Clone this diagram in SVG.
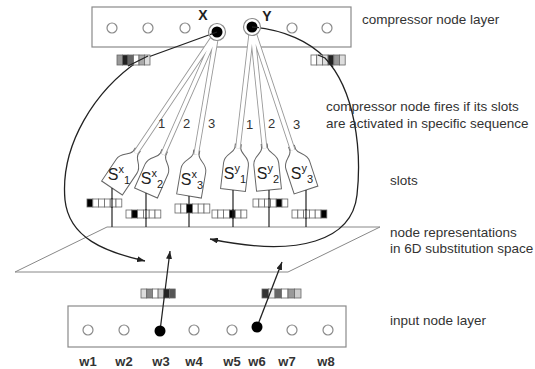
<svg xmlns="http://www.w3.org/2000/svg" width="535" height="369" viewBox="0 0 535 369">
<defs>
<style>
.box{fill:#fff;stroke:#8a8a8a;stroke-width:1.2}
.hc{fill:#fff;stroke:#8a8a8a;stroke-width:1.2}
.dot{fill:#000}
.ring{fill:#fff;stroke:#8a8a8a;stroke-width:1.2}
.cell{stroke:#666;stroke-width:0.8}
.bottle{fill:#fff;stroke:#666;stroke-width:1}
.tubeo{stroke:#999;stroke-width:5.5;fill:none}
.tubei{stroke:#fff;stroke-width:3.7;fill:none}
.stem{stroke:#222;stroke-width:1.2}
.plane{fill:none;stroke:#888;stroke-width:1}
.loop{fill:none;stroke:#222;stroke-width:1.3}
.lbl{font-family:"Liberation Sans",Arial,sans-serif;font-size:13.5px;fill:#333}
.num{font-family:"Liberation Sans",Arial,sans-serif;font-size:13px;fill:#333}
.w{font-family:"Liberation Sans",Arial,sans-serif;font-size:13px;font-weight:bold;fill:#333;text-anchor:middle}
.xy{font-family:"Liberation Sans",Arial,sans-serif;font-size:14px;font-weight:bold;fill:#222;text-anchor:middle}
.s{font-family:"Liberation Sans",Arial,sans-serif;font-size:16px;fill:#222;text-anchor:middle}
.ss{font-size:11px}
</style>
<marker id="ah" viewBox="0 0 8 6" refX="8" refY="3" markerWidth="8" markerHeight="6" markerUnits="userSpaceOnUse" orient="auto">
<path d="M0,0 L8,3 L0,6 z" fill="#222"/>
</marker>
<path id="btl" d="M -3,-46 L -3,-42 C -4,-36 -12.5,-35 -12.5,-26 L -12.5,0 L 12.5,0 L 12.5,-26 C 12.5,-35 4,-36 3,-42 L 3,-46 Z"/>
</defs>

<!-- plane -->
<g id="plane">
<polygon class="plane" points="107,227 380,227 288,272 15,272"/>
</g>

<!-- top compressor layer -->
<g id="compressor-layer">
<rect class="box" x="92" y="7" width="259" height="40"/>
<circle class="hc" cx="112" cy="28" r="5"/>
<circle class="hc" cx="148" cy="28" r="5"/>
<circle class="hc" cx="185" cy="28" r="5"/>
<circle class="hc" cx="292" cy="28" r="5"/>
<circle class="hc" cx="327" cy="28" r="5"/>
<text class="xy" x="203" y="20">X</text>
<text class="xy" x="267" y="21">Y</text>
</g>

<!-- input layer -->
<g id="input-layer">
<rect class="box" x="68" y="306" width="278" height="41"/>
<circle class="hc" cx="88" cy="330" r="5"/>
<circle class="hc" cx="124" cy="330" r="5"/>
<circle class="hc" cx="194" cy="330" r="5"/>
<circle class="hc" cx="232" cy="330" r="5"/>
<circle class="hc" cx="292" cy="330" r="5"/>
<circle class="hc" cx="328" cy="330" r="5"/>
<text class="w" x="88" y="366">w1</text>
<text class="w" x="124" y="366">w2</text>
<text class="w" x="161" y="366">w3</text>
<text class="w" x="194" y="366">w4</text>
<text class="w" x="232" y="366">w5</text>
<text class="w" x="257" y="366">w6</text>
<text class="w" x="287" y="366">w7</text>
<text class="w" x="326" y="366">w8</text>
</g>

<!-- slots -->
<g id="slot-sx1" transform="translate(112,188) rotate(33.9)"><use href="#btl" class="bottle"/></g>
<g id="slot-sx2" transform="translate(146,193) rotate(23.8)"><use href="#btl" class="bottle"/></g>
<g id="slot-sx3" transform="translate(189,196) rotate(9.7)"><use href="#btl" class="bottle"/></g>
<g id="slot-sy1" transform="translate(233,190) rotate(6.6)"><use href="#btl" class="bottle"/></g>
<g id="slot-sy2" transform="translate(269,190) rotate(-6)"><use href="#btl" class="bottle"/></g>
<g id="slot-sy3" transform="translate(306,190) rotate(-18.3)"><use href="#btl" class="bottle"/></g>

<!-- connectors -->
<g id="connectors">
<g id="tubes">
<path class="tubeo" d="M135.5,153.1 L217,32 M162.9,154.6 L217,32 M196.1,154.6 L217,32 M237.9,148.3 L252,27 M264.6,148.2 L252,27 M292.8,150.1 L252,27"/>
<path class="tubei" d="M135.5,153.1 L217,32 M162.9,154.6 L217,32 M196.1,154.6 L217,32 M237.9,148.3 L252,27 M264.6,148.2 L252,27 M292.8,150.1 L252,27"/>
</g>
<path class="loop" d="M217,32 L140,60 C95,90 60,145 65,200 C69,238 105,252 145,261" marker-end="url(#ah)"/>
<path class="loop" d="M252,27 C285,30 310,42 325,58 C355,90 362,150 357,195 C352,240 300,258 210,239" marker-end="url(#ah)"/>
<line class="stem" x1="112" y1="188" x2="112" y2="227"/>
<line class="stem" x1="146" y1="193" x2="146" y2="227"/>
<line class="stem" x1="189" y1="196" x2="189" y2="227"/>
<line class="stem" x1="233" y1="190" x2="233" y2="227"/>
<line class="stem" x1="269" y1="190" x2="269" y2="227"/>
<line class="stem" x1="306" y1="190" x2="306" y2="227"/>
</g>

<!-- compressor nodes X and Y -->
<g id="node-x">
<circle class="ring" cx="217" cy="32" r="8.5"/>
<circle class="dot" cx="217" cy="32" r="5.5"/>
</g>
<g id="node-y">
<circle class="ring" cx="252" cy="27" r="8.5"/>
<circle class="dot" cx="252" cy="27" r="5.5"/>
</g>
<path class="loop" d="M217,32 L210,34.6 M252,27 L259,27.6"/>

<!-- vectors -->
<g id="vec-top-left">
<rect class="cell" x="117" y="55" width="5.5" height="10" fill="#999"/>
<rect class="cell" x="122.5" y="55" width="5.5" height="10" fill="#222"/>
<rect class="cell" x="128" y="55" width="5.5" height="10" fill="#666"/>
<rect class="cell" x="133.5" y="55" width="5.5" height="10" fill="#fff"/>
<rect class="cell" x="139" y="55" width="5.5" height="10" fill="#aaa"/>
<rect class="cell" x="144.5" y="55" width="5.5" height="10" fill="#ddd"/>
</g>
<g id="vec-top-right">
<rect class="cell" x="311" y="55" width="5.7" height="10" fill="#fff"/>
<rect class="cell" x="316.7" y="55" width="5.7" height="10" fill="#eee"/>
<rect class="cell" x="322.4" y="55" width="5.7" height="10" fill="#ddd"/>
<rect class="cell" x="328.1" y="55" width="5.7" height="10" fill="#222"/>
<rect class="cell" x="333.8" y="55" width="5.7" height="10" fill="#999"/>
<rect class="cell" x="339.5" y="55" width="5.7" height="10" fill="#ddd"/>
</g>
<path class="loop" d="M148,56 L140,60 L128,66 M318,55 L325,58 L333,67"/>

<g id="vec-sx1" fill="#fff">
<rect class="cell" x="87" y="199" width="5.8" height="8" fill="#000"/>
<rect class="cell" x="92.8" y="199" width="5.8" height="8"/>
<rect class="cell" x="98.6" y="199" width="5.8" height="8"/>
<rect class="cell" x="104.4" y="199" width="5.8" height="8"/>
<rect class="cell" x="110.2" y="199" width="5.8" height="8"/>
<rect class="cell" x="116" y="199" width="5.8" height="8"/>
</g>
<g id="vec-sx2" fill="#fff">
<rect class="cell" x="126" y="210" width="5.8" height="8"/>
<rect class="cell" x="131.8" y="210" width="5.8" height="8" fill="#000"/>
<rect class="cell" x="137.6" y="210" width="5.8" height="8"/>
<rect class="cell" x="143.4" y="210" width="5.8" height="8"/>
<rect class="cell" x="149.2" y="210" width="5.8" height="8"/>
<rect class="cell" x="155" y="210" width="5.8" height="8"/>
</g>
<g id="vec-sx3" fill="#fff">
<rect class="cell" x="175" y="204" width="5.8" height="9"/>
<rect class="cell" x="180.8" y="204" width="5.8" height="9"/>
<rect class="cell" x="186.6" y="204" width="5.8" height="9" fill="#000"/>
<rect class="cell" x="192.4" y="204" width="5.8" height="9"/>
<rect class="cell" x="198.2" y="204" width="5.8" height="9"/>
<rect class="cell" x="204" y="204" width="5.8" height="9"/>
</g>
<g id="vec-sy1" fill="#fff">
<rect class="cell" x="212" y="210" width="5.8" height="8"/>
<rect class="cell" x="217.8" y="210" width="5.8" height="8"/>
<rect class="cell" x="223.6" y="210" width="5.8" height="8"/>
<rect class="cell" x="229.4" y="210" width="5.8" height="8" fill="#000"/>
<rect class="cell" x="235.2" y="210" width="5.8" height="8"/>
<rect class="cell" x="241" y="210" width="5.8" height="8"/>
</g>
<g id="vec-sy2" fill="#fff">
<rect class="cell" x="253" y="199" width="5.8" height="8"/>
<rect class="cell" x="258.8" y="199" width="5.8" height="8"/>
<rect class="cell" x="264.6" y="199" width="5.8" height="8"/>
<rect class="cell" x="270.4" y="199" width="5.8" height="8"/>
<rect class="cell" x="276.2" y="199" width="5.8" height="8" fill="#000"/>
<rect class="cell" x="282" y="199" width="5.8" height="8"/>
</g>
<g id="vec-sy3" fill="#fff">
<rect class="cell" x="292" y="210" width="5.8" height="8"/>
<rect class="cell" x="297.8" y="210" width="5.8" height="8"/>
<rect class="cell" x="303.6" y="210" width="5.8" height="8"/>
<rect class="cell" x="309.4" y="210" width="5.8" height="8"/>
<rect class="cell" x="315.2" y="210" width="5.8" height="8"/>
<rect class="cell" x="321" y="210" width="5.8" height="8" fill="#000"/>
</g>
<g id="stems-over">
<line class="stem" x1="112" y1="198" x2="112" y2="208"/>
<line class="stem" x1="146" y1="209" x2="146" y2="219"/>
<line class="stem" x1="233" y1="209" x2="233" y2="219"/>
<line class="stem" x1="269" y1="198" x2="269" y2="208"/>
<line class="stem" x1="306" y1="209" x2="306" y2="219"/>
</g>

<g id="vec-in-left">
<rect class="cell" x="141" y="289" width="5.7" height="9" fill="#ddd"/>
<rect class="cell" x="146.7" y="289" width="5.7" height="9" fill="#888"/>
<rect class="cell" x="152.4" y="289" width="5.7" height="9" fill="#fff"/>
<rect class="cell" x="158.1" y="289" width="5.7" height="9" fill="#ccc"/>
<rect class="cell" x="163.8" y="289" width="5.7" height="9" fill="#222"/>
<rect class="cell" x="169.5" y="289" width="5.7" height="9" fill="#555"/>
</g>
<g id="vec-in-right">
<rect class="cell" x="262" y="289" width="6.5" height="9" fill="#333"/>
<rect class="cell" x="268.5" y="289" width="6.5" height="9" fill="#eee"/>
<rect class="cell" x="275" y="289" width="6.5" height="9" fill="#666"/>
<rect class="cell" x="281.5" y="289" width="6.5" height="9" fill="#fff"/>
<rect class="cell" x="288" y="289" width="6.5" height="9" fill="#999"/>
<rect class="cell" x="294.5" y="289" width="6.5" height="9" fill="#ccc"/>
</g>

<!-- input arrows -->
<g id="input-arrows">
<line class="loop" x1="160" y1="331" x2="170" y2="251" marker-end="url(#ah)"/>
<line class="loop" x1="257" y1="327" x2="282" y2="262" marker-end="url(#ah)"/>
</g>
<g id="input-w3"><circle class="dot" cx="160" cy="331" r="5.5"/></g>
<g id="input-w6"><circle class="dot" cx="257" cy="327" r="5.5"/></g>

<!-- slot labels -->
<g id="slot-labels">
<text class="s" x="119" y="180">S<tspan class="ss" dy="-7">x</tspan><tspan class="ss" dy="11">1</tspan></text>
<text class="s" x="152" y="184">S<tspan class="ss" dy="-7">x</tspan><tspan class="ss" dy="11">2</tspan></text>
<text class="s" x="192" y="185">S<tspan class="ss" dy="-7">x</tspan><tspan class="ss" dy="11">3</tspan></text>
<text class="s" x="235" y="179">S<tspan class="ss" dy="-7">y</tspan><tspan class="ss" dy="11">1</tspan></text>
<text class="s" x="268" y="179">S<tspan class="ss" dy="-7">y</tspan><tspan class="ss" dy="11">2</tspan></text>
<text class="s" x="302" y="179">S<tspan class="ss" dy="-7">y</tspan><tspan class="ss" dy="11">3</tspan></text>
</g>

<!-- sequence numbers -->
<g id="seq-numbers">
<text class="num" x="158" y="128">1</text>
<text class="num" x="183" y="128">2</text>
<text class="num" x="208" y="128">3</text>
<text class="num" x="246" y="129">1</text>
<text class="num" x="268" y="128">2</text>
<text class="num" x="293" y="129">3</text>
</g>

<!-- annotations -->
<g id="annotations">
<text class="lbl" x="362" y="24">compressor node layer</text>
<text class="lbl" x="326" y="111">compressor node fires if its slots</text>
<text class="lbl" x="326" y="128">are activated in specific sequence</text>
<text class="lbl" x="390" y="185">slots</text>
<text class="lbl" x="390" y="237">node representations</text>
<text class="lbl" x="390" y="253">in 6D substitution space</text>
<text class="lbl" x="390" y="325">input node layer</text>
</g>
</svg>
